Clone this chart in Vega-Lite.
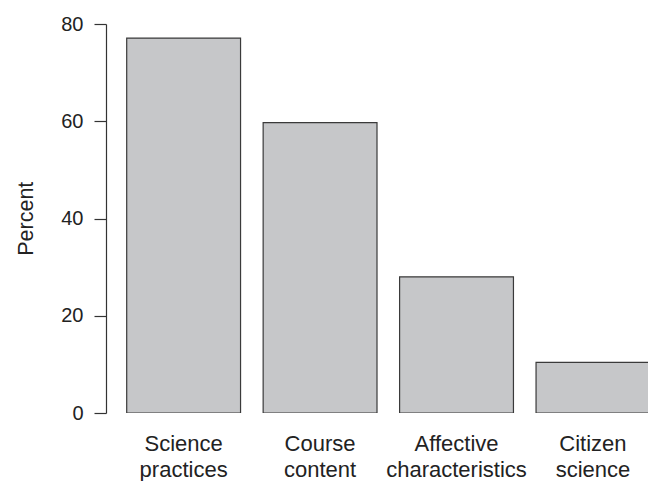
{
  "$schema": "https://vega.github.io/schema/vega-lite/v6.json",
  "autosize": {"type": "none"},
  "padding": {"left": 106, "top": 24, "right": 0, "bottom": 68},
  "width": 542,
  "height": 389,
  "background": "white",
  "config": {"view": {"stroke": null}, "font": "Liberation Sans"},
  "data": {"values": [
    {"category": "Science practices", "percent": 77.1},
    {"category": "Course content", "percent": 59.7},
    {"category": "Affective characteristics", "percent": 28.0},
    {"category": "Citizen science", "percent": 10.4}
  ]},
  "mark": {"type": "bar", "fill": "#c6c7c9", "stroke": "#3a3a3a", "strokeWidth": 1.2, "clip": true},
  "encoding": {
    "x": {
      "field": "category", "type": "nominal", "sort": null,
      "scale": {"range": [0, 564.6], "paddingInner": 0.1656, "paddingOuter": 0.1517},
      "axis": {
        "title": null, "domain": false, "ticks": false, "labelAngle": 0,
        "labelExpr": "split(datum.label, ' ')",
        "labelFont": "Liberation Sans", "labelFontSize": 22, "labelColor": "#222",
        "labelLineHeight": 26.5, "labelPadding": 20, "labelBaseline": "top"
      }
    },
    "y": {
      "field": "percent", "type": "quantitative",
      "scale": {"domain": [0, 80], "nice": false, "zero": true},
      "axis": {
        "title": "Percent", "values": [0, 20, 40, 60, 80], "grid": false,
        "domainColor": "#333", "tickColor": "#333", "tickSize": 12, "domainWidth": 1.2, "tickWidth": 1.2,
        "labelFont": "Liberation Sans", "labelFontSize": 20, "labelColor": "#222", "labelPadding": 11,
        "titleFont": "Liberation Sans", "titleFontSize": 21.5, "titleFontWeight": "normal", "titleColor": "#222",
        "titleAngle": -90, "titleX": -74, "titleY": 194.2, "titleAlign": "center", "titleBaseline": "alphabetic"
      }
    }
  }
}
